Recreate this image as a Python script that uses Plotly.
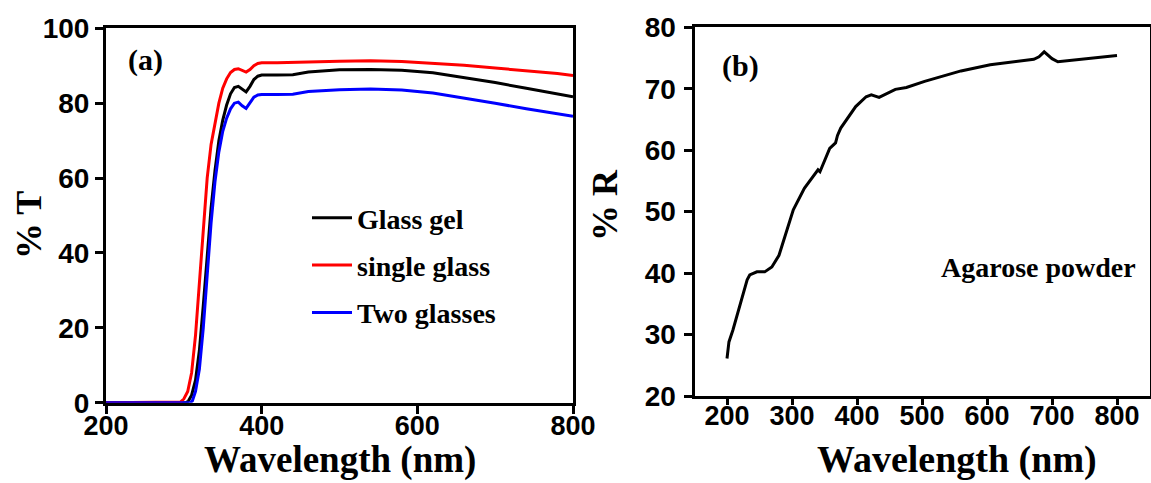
import plotly.graph_objects as go

# ---- Panel (a): transmittance ----
wl_red = [200, 290, 296, 300, 305, 310, 315, 320, 325, 330, 335, 340, 345, 350, 355, 360, 365, 370, 375, 380,
          385, 390, 395, 400, 420, 440, 460, 500, 540, 580, 620, 660, 700, 740, 780, 800]
t_red = [0, 0, 0.2, 1, 3, 8, 18, 32, 47, 60, 69, 75, 80, 84, 86.5, 88.2, 89, 89.2, 88.8, 88.3,
         89, 90, 90.6, 90.8, 90.8, 90.8, 91, 91.2, 91.3, 91.1, 90.7, 90.1, 89.4, 88.7, 87.9, 87.4]

wl_black = [200, 303, 306, 310, 315, 320, 325, 330, 335, 340, 345, 350, 355, 360, 365, 370, 375, 380,
            385, 390, 395, 400, 420, 440, 460, 500, 540, 580, 620, 660, 700, 740, 780, 800]
t_black = [0, 0, 0.5, 2, 6, 14, 26, 40, 52, 62, 70, 75.5, 79.5, 82.5, 84.2, 84.5, 83.7, 83,
           84.5, 86.3, 87.2, 87.5, 87.5, 87.6, 88.3, 88.9, 89, 88.8, 88.1, 86.9, 85.5, 84, 82.6, 81.7]

wl_blue = [200, 308, 311, 315, 320, 325, 330, 335, 340, 345, 350, 355, 360, 365, 370, 375, 380,
           385, 390, 395, 400, 420, 440, 460, 500, 540, 580, 620, 660, 700, 740, 780, 800]
t_blue = [0, 0, 0.5, 3, 9, 20, 34, 48, 59, 67, 72.5, 76, 78.5, 80, 80.3, 79.3, 78.6,
          80.2, 81.6, 82.2, 82.3, 82.3, 82.4, 83.1, 83.6, 83.8, 83.5, 82.7, 81.4, 80, 78.5, 77.2, 76.5]

# ---- Panel (b): reflectance ----
wl_r = [200, 203, 209, 219, 231, 235, 246, 258, 269, 280, 291, 302, 319, 336, 340, 343, 358, 367, 370,
        375, 398, 414, 422, 434, 459, 476, 504, 560, 605, 672, 680, 688, 700, 709, 756, 800]
r_val = [26.1, 28.8, 30.7, 34.5, 38.9, 39.7, 40.2, 40.2, 41.0, 42.9, 46.5, 50.3, 53.8, 56.2, 56.8, 56.5, 60.3, 61.2, 62.4,
         63.6, 67.1, 68.7, 69.0, 68.6, 69.9, 70.2, 71.2, 72.9, 73.9, 74.8, 75.2, 76.0, 74.9, 74.4, 74.9, 75.4]

W, H = 1151, 483

fig = go.Figure()
fig.add_trace(go.Scatter(x=wl_black, y=t_black, mode="lines", name="Glass gel",
                         line=dict(color="black", width=3), legendgroup="g1", xaxis="x", yaxis="y"))
fig.add_trace(go.Scatter(x=wl_red, y=t_red, mode="lines", name="single glass",
                         line=dict(color="#ff0000", width=3), legendgroup="g2", xaxis="x", yaxis="y"))
fig.add_trace(go.Scatter(x=wl_blue, y=t_blue, mode="lines", name="Two glasses",
                         line=dict(color="#0000ff", width=3), legendgroup="g3", xaxis="x", yaxis="y"))
fig.add_trace(go.Scatter(x=wl_r, y=r_val, mode="lines", name="Agarose powder", showlegend=False,
                         line=dict(color="black", width=3), xaxis="x2", yaxis="y2"))

tickfont = dict(family="Liberation Sans", size=28, color="black", weight="bold")
common = dict(showline=True, linecolor="black", linewidth=3, mirror=True, ticks="outside",
              tickwidth=3, tickcolor="black", showgrid=False, zeroline=False,
              automargin=False)

fig.update_layout(
    width=W, height=H, margin=dict(l=0, r=0, t=0, b=0),
    paper_bgcolor="white", plot_bgcolor="white",
    xaxis=dict(domain=[106 / W, 573 / W], range=[200, 800], tickvals=[200, 400, 600, 800],
               anchor="y", ticklen=8, ticklabelstandoff=-11,
               tickfont=dict(tickfont, size=27), **common),
    yaxis=dict(domain=[1 - 402.7 / H, 1 - 28.3 / H], range=[0, 100], tickvals=[0, 20, 40, 60, 80, 100],
               anchor="x", ticklen=8, ticklabelstandoff=0, tickfont=tickfont, **common),
    xaxis2=dict(domain=[694.5 / W, 1149.5 / W], range=[150, 850],
                tickvals=[200, 300, 400, 500, 600, 700, 800], anchor="y2", ticklen=6,
                ticklabelstandoff=-12, tickfont=dict(tickfont, size=27), **common),
    yaxis2=dict(domain=[1 - 396 / H, 1 - 27.3 / H], range=[20, 80], tickvals=[20, 30, 40, 50, 60, 70, 80],
                anchor="x2", ticklen=8, ticklabelstandoff=2, tickfont=tickfont, **common),
    showlegend=True,
    legend=dict(x=307 / W, y=1 - 193 / H, xanchor="left", yanchor="top",
                font=dict(family="Liberation Serif", size=28, color="black", weight="bold"),
                itemwidth=40, tracegroupgap=8, bgcolor="rgba(0,0,0,0)"),
)

serif = "Liberation Serif"
anns = [
    dict(text="Wavelength (nm)", x=340 / W, y=0, size=37, anchor="bottom"),
    dict(text="Wavelength (nm)", x=957 / W, y=0, size=38, anchor="bottom"),
    dict(text="% T", x=29 / W, y=1 - 225 / H, size=36, angle=-90),
    dict(text="% R", x=605 / W, y=1 - 205 / H, size=36, angle=-90),
    dict(text="(a)", x=145 / W, y=1 - 60 / H, size=30),
    dict(text="(b)", x=740 / W, y=1 - 66 / H, size=30),
    dict(text="Agarose powder", x=1038 / W, y=1 - 267 / H, size=28),
]
for a in anns:
    fig.add_annotation(text=a["text"], x=a["x"], y=a["y"], xref="paper", yref="paper",
                       xanchor="center", yanchor=a.get("anchor", "middle"), showarrow=False,
                       textangle=a.get("angle", 0),
                       font=dict(family=serif, size=a["size"], color="black", weight="bold"))

fig.write_html("out.html", config={"displayModeBar": False},
               post_script="document.body.style.margin='0px';")
